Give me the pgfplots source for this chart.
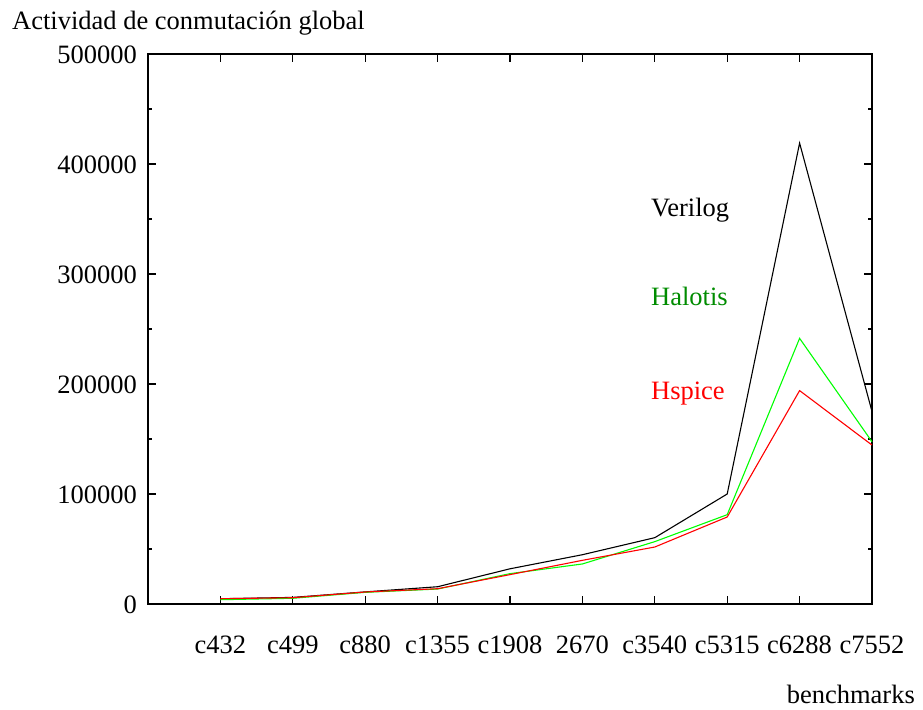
\documentclass[border=0pt]{standalone}
\usepackage{fontspec}
\setmainfont{Liberation Serif}
\usepackage{pgfplots}
\pgfplotsset{compat=1.18}
\definecolor{halotis}{rgb}{0,0.55,0}

% Global switching activity per benchmark (Verilog, Halotis, Hspice)
\begin{document}
\fontsize{26.5bp}{32bp}\selectfont
\begin{tikzpicture}
\path[use as bounding box] (-148bp,-106bp) rectangle (775bp,604bp);
\begin{axis}[
  at={(0,0)}, anchor=south west,
  scale only axis, width=724bp, height=550bp,
  xmin=-1, xmax=9, ymin=0, ymax=500000,
  xtick={0,...,9},
  xticklabels={c432,c499,c880,c1355,c1908,2670,c3540,c5315,c6288,c7552},
  ytick={0,100000,...,500000},
  minor y tick num=1,
  scaled y ticks=false,
  /pgf/number format/assume math mode=true,
  yticklabel style={/pgf/number format/fixed, /pgf/number format/1000 sep={},
    anchor=east, inner sep=0pt, xshift=-11bp, yshift=-1bp},
  xticklabel style={anchor=base, inner sep=0pt, yshift=-49bp},
  tick align=inside,
  major tick length=8bp, minor tick length=4bp,
  every tick/.style={line width=1.2bp, black},
  axis line style={line width=1.5bp},
  clip=false,
]
\addplot[black, line width=1.1bp] coordinates {
  (0,4800) (1,6000) (2,11000) (3,15700) (4,32000) (5,44800)
  (6,60300) (7,100000) (8,419000) (9,175000)};
\addplot[green, line width=1.1bp] coordinates {
  (0,3900) (1,5200) (2,10600) (3,13600) (4,27600) (5,36400)
  (6,56700) (7,81200) (8,241500) (9,147500)};
\addplot[red, line width=1.1bp] coordinates {
  (0,4800) (1,5700) (2,10900) (3,13900) (4,26700) (5,39700)
  (6,51800) (7,79100) (8,194000) (9,144500)};
\node[anchor=base west, inner sep=0pt, black] at (axis cs:5.947,352500) {Verilog};
\node[anchor=base west, inner sep=0pt, halotis] at (axis cs:5.947,271800) {Halotis};
\node[anchor=base west, inner sep=0pt, red] at (axis cs:5.947,185500) {Hspice};
\end{axis}
\node[anchor=base west, inner sep=0pt] at (-136bp,574bp) {Actividad de conmutación global};
\node[anchor=base east, inner sep=0pt] at (767bp,-99bp) {benchmarks};
\end{tikzpicture}
\end{document}
